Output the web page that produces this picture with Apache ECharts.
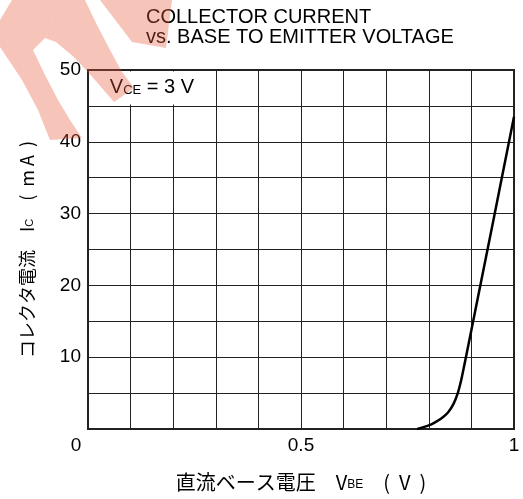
<!DOCTYPE html>
<html>
<head>
<meta charset="utf-8">
<script src="https://cdn.jsdelivr.net/npm/echarts@6/dist/echarts.min.js"></script>
<style>
  html, body { margin: 0; padding: 0; background: #fff; }
  #chart { width: 523px; height: 499px; }
</style>
</head>
<body>
<div id="chart"></div>
<script>
// VBE (V) と IC (mA) の読み取り値
const vbe = [0.773, 0.80, 0.8125, 0.83, 0.845, 0.858, 0.868, 0.876, 0.882, 0.90, 0.95, 1.0];
const ic  = [0,     0.5,  0.85,   1.5,  2.3,   3.5,   5.0,   6.8,   8.5,   13.8, 28.6, 43.5];
const xLabels = [0, 0.5, 1];
const yLabels = [10, 20, 30, 40, 50];
// 条件ラベルの枠 (VCE = 3 V)
const condBox = [[0, 45], [0.3, 50]];

const chart = echarts.init(document.getElementById('chart'));

const font = 'Liberation Sans, Arial, sans-serif';
const cjk = '"Noto Sans CJK JP", sans-serif';

let points = vbe.map((v, i) => [v, ic[i]]);

// 透かしロゴ (左上)
let wmStyle = { fill: 'rgba(232,87,58,0.35)' };
let wmShapes = [
    // 左の弧
    [[12,0],[60,0],[45,38],[33,50],[45,75],[58,100],[70,120],[82,138],[50,140],[38,110],[22,80],[0,47],[0,20]],
    // 中央の帯 (VCE枠まで)
    [[60,0],[85,0],[97,25],[110,50],[122,72],[134,88],[114,102],[95,80],[75,58],[56,42],[45,38]],
    // 右上の帯
    [[100,0],[172,0],[166,48],[132,42]]
];
let watermark = wmShapes.map(p => ({
    type: 'polygon', zlevel: 5, z: 10, silent: true,
    shape: { points: p },
    style: wmStyle
}));

let option = {
    animation: false,
    backgroundColor: '#fff',
    title: {
        text: 'COLLECTOR CURRENT\nvs. BASE TO EMITTER VOLTAGE',
        left: 146,
        top: 7,
        padding: 0,
        textStyle: {
            fontFamily: font,
            fontSize: 20,
            fontWeight: 'normal',
            color: '#000',
            lineHeight: 20
        }
    },
    grid: {
        left: 88, right: 9, top: 70, bottom: 70,
        show: true,
        borderColor: '#222',
        borderWidth: 2
    },
    xAxis: {
        type: 'value',
        min: 0, max: 1, interval: 0.1,
        axisLine: { show: true, lineStyle: { color: '#222', width: 2 } },
        axisTick: { show: false },
        splitLine: { show: true, lineStyle: { color: '#222', width: 1 } },
        axisLabel: {
            margin: 7,
            fontFamily: font,
            fontSize: 19,
            color: '#000',
            formatter: function (v) {
                let hit = xLabels.find(t => Math.abs(t - v) < 1e-6);
                if (hit === undefined) return '';
                if (hit === 0) return '{z|0}';
                return String(hit);
            },
            rich: { z: { fontFamily: font, fontSize: 19, color: '#000', padding: [0, 24, 0, 0] } }
        },
        name: '直流ベース電圧　V{s|BE}　(  V  )',
        nameLocation: 'middle',
        nameGap: 43,
        nameTextStyle: {
            fontFamily: cjk, fontSize: 20, color: '#000',
            rich: { s: { fontFamily: font, fontSize: 12, color: '#000', padding: [6, 0, 0, 0] } }
        }
    },
    yAxis: {
        type: 'value',
        min: 0, max: 50, interval: 5,
        axisLine: { show: true, lineStyle: { color: '#222', width: 2 } },
        axisTick: { show: false },
        splitLine: { show: true, lineStyle: { color: '#222', width: 1 } },
        axisLabel: {
            margin: 7,
            fontFamily: font,
            fontSize: 19,
            color: '#000',
            formatter: function (v) {
                return yLabels.indexOf(v) >= 0 ? String(v) : '';
            }
        },
        name: 'コレクタ電流　I{s|C}　(  m A  )',
        nameLocation: 'middle',
        nameRotate: 90,
        nameGap: 52,
        nameTextStyle: {
            fontFamily: cjk, fontSize: 18, color: '#000',
            rich: { s: { fontFamily: font, fontSize: 11, color: '#000', padding: [5, 0, 0, 0] } }
        }
    },
    series: [{
        type: 'line',
        data: points,
        smooth: 0.3,
        showSymbol: false,
        clip: false,
        lineStyle: { color: '#000', width: 2.5 },
        markArea: {
            silent: true,
            itemStyle: { color: '#fff', opacity: 1 },
            label: {
                show: true,
                position: 'inside',
                formatter: '{v|V}{s|CE}{v| = 3 V}',
                rich: {
                    v: { fontFamily: font, fontSize: 20, color: '#000' },
                    s: { fontFamily: font, fontSize: 13, color: '#000', padding: [5, 0, 0, 0] }
                }
            },
            data: [[
                { coord: [condBox[0][0] + 0.004, condBox[0][1] + 0.2] },
                { coord: [condBox[1][0] - 0.004, condBox[1][1] - 0.2] }
            ]]
        }
    }],
    graphic: { elements: watermark }
};

chart.setOption(option);
</script>
</body>
</html>
